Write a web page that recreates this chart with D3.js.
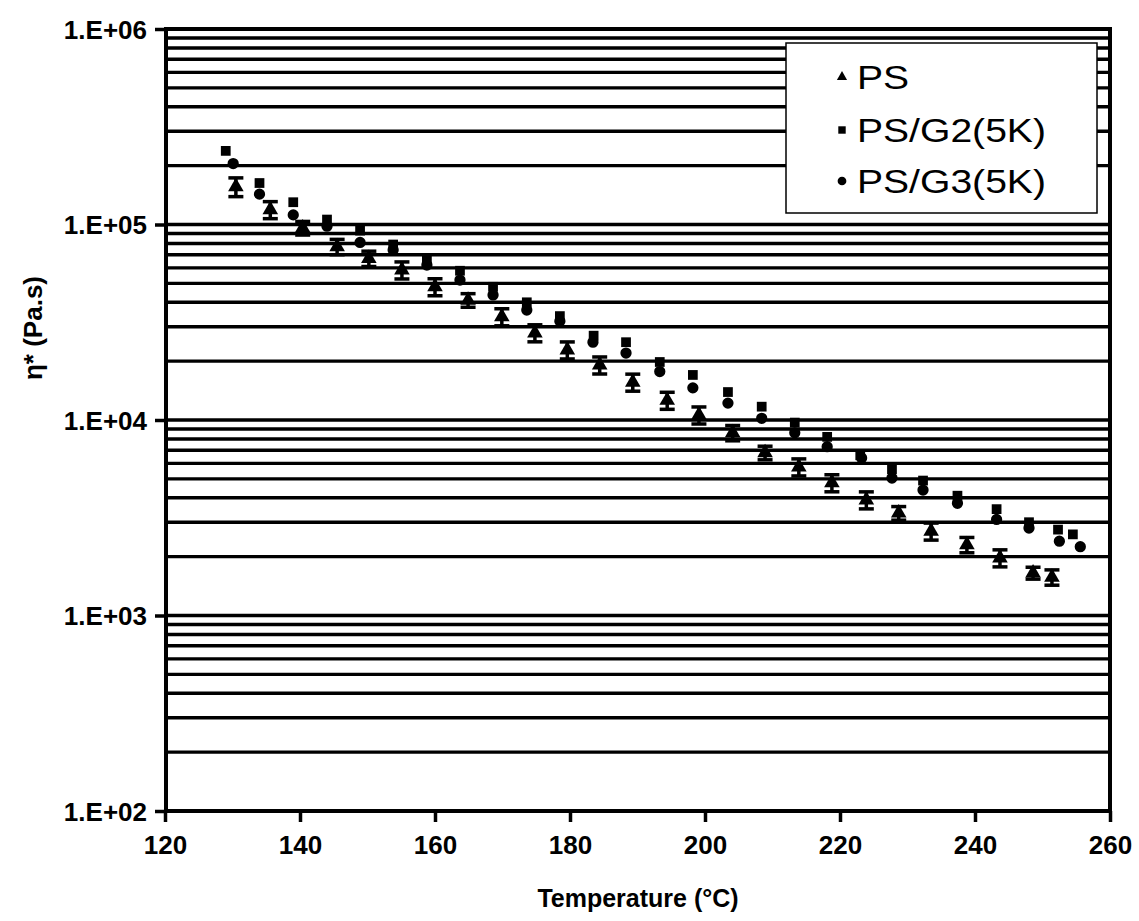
<!DOCTYPE html>
<html>
<head>
<meta charset="utf-8">
<script src="https://cdn.jsdelivr.net/npm/d3@7"></script>
<style>
  html, body { margin: 0; padding: 0; background: #fff; }
  svg { display: block; }
  text { font-family: "Liberation Sans", Arial, Helvetica, sans-serif; fill: #000; }
</style>
</head>
<body>
<svg id="chart" width="1139" height="921"></svg>
<script>
// Complex viscosity vs temperature for PS and its blends
const psTemp = [130.5, 135.6, 140.4, 145.5, 150.2, 155.1, 160.0, 164.9, 169.9, 174.8, 179.6, 184.4, 189.3,
                194.4, 199.1, 204.1, 208.9, 213.9, 218.8, 223.9, 228.7, 233.5, 238.8, 243.7, 248.6, 251.4];
const psVisc = [1.56e5, 1.19e5, 9.6e4, 7.7e4, 6.7e4, 5.85e4, 4.8e4, 4.1e4, 3.37e4, 2.79e4, 2.28e4, 1.91e4, 1.56e4,
                1.26e4, 1.06e4, 8.6e3, 6.8e3, 5.75e3, 4.77e3, 3.9e3, 3.34e3, 2.7e3, 2.3e3, 1.97e3, 1.65e3, 1.57e3];
const psErr  = [0.11, 0.10, 0.08, 0.09, 0.09, 0.10, 0.10, 0.08, 0.10, 0.10, 0.10, 0.10, 0.10,
                0.10, 0.10, 0.09, 0.08, 0.10, 0.10, 0.10, 0.08, 0.10, 0.09, 0.10, 0.07, 0.09];

const g2Temp = [129.0, 134.0, 139.0, 144.0, 148.9, 153.8, 158.8, 163.7, 168.6, 173.6, 178.5, 183.5, 188.3,
                193.3, 198.2, 203.4, 208.4, 213.3, 218.1, 223.0, 227.7, 232.3, 237.4, 243.2, 248.0, 252.3, 254.5];
const g2Visc = [2.38e5, 1.63e5, 1.30e5, 1.06e5, 9.3e4, 7.9e4, 6.7e4, 5.8e4, 4.8e4, 4.0e4, 3.4e4, 2.7e4, 2.5e4,
                1.98e4, 1.70e4, 1.39e4, 1.17e4, 9.7e3, 8.2e3, 6.6e3, 5.6e3, 4.9e3, 4.1e3, 3.5e3, 3.0e3, 2.75e3, 2.6e3];

const g3Temp = [130.1, 134.0, 139.0, 144.0, 148.9, 153.8, 158.8, 163.7, 168.6, 173.6, 178.5, 183.4, 188.3,
                193.3, 198.2, 203.4, 208.4, 213.3, 218.1, 223.2, 227.7, 232.3, 237.4, 243.2, 248.0, 252.5, 255.6];
const g3Visc = [2.05e5, 1.43e5, 1.12e5, 9.8e4, 8.1e4, 7.4e4, 6.2e4, 5.2e4, 4.36e4, 3.65e4, 3.2e4, 2.5e4, 2.2e4,
                1.77e4, 1.46e4, 1.22e4, 1.02e4, 8.6e3, 7.3e3, 6.4e3, 5.05e3, 4.38e3, 3.75e3, 3.1e3, 2.8e3, 2.4e3, 2.25e3];

const xTicks = [120, 140, 160, 180, 200, 220, 240, 260];
const yTicks = [1e2, 1e3, 1e4, 1e5, 1e6];
const yTickLabels = ["1.E+02", "1.E+03", "1.E+04", "1.E+05", "1.E+06"];
const seriesNames = ["PS", "PS/G2(5K)", "PS/G3(5K)"];

const svg = d3.select("#chart");
const plot = { left: 166, right: 1110, top: 29, bottom: 811 };

const x = d3.scaleLinear().domain([120, 260]).range([165, 1110]);
const y = d3.scaleLog().domain([1e2, 1e6]).range([plot.bottom, plot.top]);

// Horizontal grid at every 1..9 x 10^k
const gridVals = [];
for (let k = 2; k < 6; k++) for (let m = 1; m <= 9; m++) gridVals.push(m * Math.pow(10, k));
gridVals.push(1e6);
svg.append("g").selectAll("line").data(gridVals).join("line")
  .attr("x1", plot.left).attr("x2", plot.right)
  .attr("y1", d => y(d)).attr("y2", d => y(d))
  .attr("stroke", "#000").attr("stroke-width", 3.4);

// Plot frame
svg.append("rect")
  .attr("x", plot.left).attr("y", plot.top)
  .attr("width", plot.right - plot.left).attr("height", plot.bottom - plot.top)
  .attr("fill", "none").attr("stroke", "#000").attr("stroke-width", 4);

// Y axis
const yAxis = d3.axisLeft(y).tickValues(yTicks)
  .tickFormat((d, i) => yTickLabels[i]).tickSize(11).tickPadding(8);
const gy = svg.append("g").attr("transform", `translate(${plot.left},0)`).call(yAxis);
gy.select(".domain").remove();
gy.selectAll(".tick line").attr("stroke", "#000").attr("stroke-width", 3.5);
gy.selectAll(".tick text").attr("font-size", 26).attr("font-weight", "bold")
  .attr("fill", "#000").attr("dy", "0.36em");

// X axis
const xAxis = d3.axisBottom(x).tickValues(xTicks).tickSize(11).tickPadding(14);
const gx = svg.append("g").attr("transform", `translate(0,${plot.bottom})`).call(xAxis);
gx.select(".domain").remove();
gx.selectAll(".tick line").attr("stroke", "#000").attr("stroke-width", 3.5);
gx.selectAll(".tick text").attr("font-size", 26).attr("font-weight", "bold").attr("fill", "#000");

// Axis titles
svg.append("text").attr("x", 638).attr("y", 907).attr("text-anchor", "middle")
  .attr("font-size", 25).attr("font-weight", "bold").text("Temperature (°C)");
svg.append("text").attr("transform", "translate(42,328) rotate(-90)").attr("text-anchor", "middle")
  .attr("font-size", 26).attr("font-weight", "bold").text("η* (Pa.s)");

// Markers
const triPath = d3.symbol().type(d3.symbolTriangle).size(105)();
const sqPath = d3.symbol().type(d3.symbolSquare).size(95)();
const circPath = d3.symbol().type(d3.symbolCircle).size(100)();

const psData = psTemp.map((t, i) => ({ t, v: psVisc[i], e: psErr[i] }));
const g2Data = g2Temp.map((t, i) => ({ t, v: g2Visc[i] }));
const g3Data = g3Temp.map((t, i) => ({ t, v: g3Visc[i] }));

// PS error bars
const eb = svg.append("g").selectAll("g").data(psData).join("g");
eb.append("line")
  .attr("x1", d => x(d.t)).attr("x2", d => x(d.t))
  .attr("y1", d => y(d.v * (1 + d.e))).attr("y2", d => y(d.v * (1 - d.e)))
  .attr("stroke", "#000").attr("stroke-width", 3.5);
eb.append("line")
  .attr("x1", d => x(d.t) - 7.5).attr("x2", d => x(d.t) + 7.5)
  .attr("y1", d => y(d.v * (1 + d.e))).attr("y2", d => y(d.v * (1 + d.e)))
  .attr("stroke", "#000").attr("stroke-width", 3.5);
eb.append("line")
  .attr("x1", d => x(d.t) - 7.5).attr("x2", d => x(d.t) + 7.5)
  .attr("y1", d => y(d.v * (1 - d.e))).attr("y2", d => y(d.v * (1 - d.e)))
  .attr("stroke", "#000").attr("stroke-width", 3.5);

svg.append("g").selectAll("path").data(psData).join("path")
  .attr("d", triPath).attr("transform", d => `translate(${x(d.t)},${y(d.v)})`).attr("fill", "#000");
svg.append("g").selectAll("path").data(g2Data).join("path")
  .attr("d", sqPath).attr("transform", d => `translate(${x(d.t)},${y(d.v)})`).attr("fill", "#000");
svg.append("g").selectAll("path").data(g3Data).join("path")
  .attr("d", circPath).attr("transform", d => `translate(${x(d.t)},${y(d.v)})`).attr("fill", "#000");

// Legend
const lg = svg.append("g");
lg.append("rect").attr("x", 786).attr("y", 43).attr("width", 311).attr("height", 170)
  .attr("fill", "#fff").attr("stroke", "#000").attr("stroke-width", 1.5);
const legendMarks = [
  d3.symbol().type(d3.symbolTriangle).size(45)(),
  d3.symbol().type(d3.symbolSquare).size(55)(),
  d3.symbol().type(d3.symbolCircle).size(60)()
];
const legendY = [77, 130, 181];
seriesNames.forEach((name, i) => {
  lg.append("path").attr("d", legendMarks[i])
    .attr("transform", `translate(842,${legendY[i]})`).attr("fill", "#000");
  lg.append("text").attr("x", 857).attr("y", legendY[i]).attr("dy", "0.36em")
    .attr("font-size", 34).attr("transform", `translate(857,0) scale(1.15,1) translate(-857,0)`)
    .text(name);
});
</script>
</body>
</html>
